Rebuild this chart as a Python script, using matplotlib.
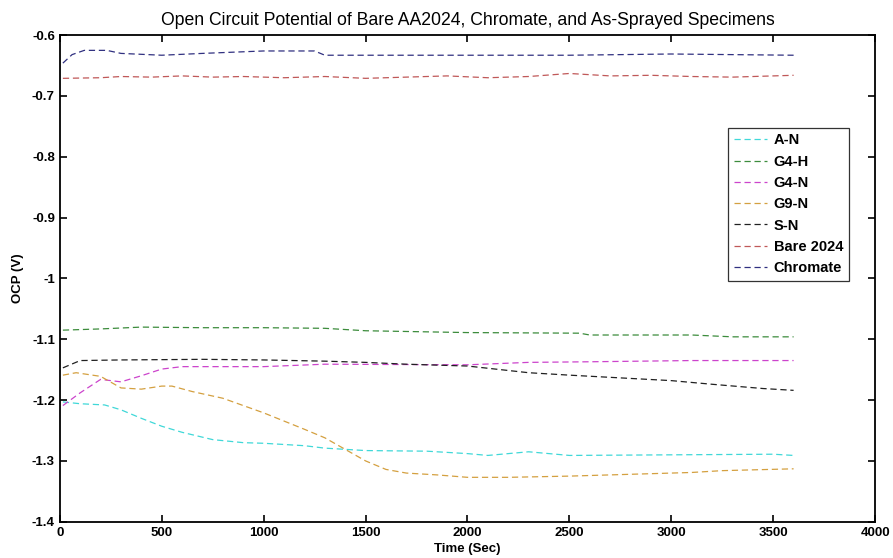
import numpy as np
import matplotlib
matplotlib.use('Agg')
import matplotlib.pyplot as plt

plt.rcParams['font.family'] = ['Liberation Sans', 'DejaVu Sans']

# Data (time in s, OCP in V)

t_an = [15, 100, 220, 300, 400, 500, 600, 750, 900, 1000, 1200, 1300, 1500, 1800, 2000, 2100, 2300, 2500, 3000, 3500, 3600]
v_an = [-1.203, -1.206, -1.208, -1.216, -1.230, -1.243, -1.253, -1.265, -1.270, -1.271, -1.275, -1.279, -1.283, -1.284, -1.288, -1.291, -1.285, -1.291, -1.290, -1.289, -1.291]

t_g4h = [15, 200, 400, 700, 1000, 1300, 1500, 2000, 2550, 2600, 3100, 3300, 3600]
v_g4h = [-1.085, -1.083, -1.080, -1.081, -1.081, -1.082, -1.086, -1.089, -1.090, -1.093, -1.093, -1.096, -1.096]

t_g4n = [15, 100, 200, 300, 400, 500, 600, 1000, 1300, 2000, 2300, 2600, 3100, 3600]
v_g4n = [-1.209, -1.188, -1.166, -1.170, -1.160, -1.149, -1.145, -1.145, -1.141, -1.142, -1.138, -1.137, -1.135, -1.135]

t_g9n = [15, 80, 200, 300, 400, 500, 550, 650, 800, 1000, 1200, 1300, 1400, 1500, 1600, 1700, 1850, 2000, 2200, 2500, 2800, 3100, 3250, 3600]
v_g9n = [-1.159, -1.155, -1.161, -1.180, -1.182, -1.177, -1.177, -1.186, -1.197, -1.221, -1.248, -1.262, -1.281, -1.300, -1.314, -1.320, -1.323, -1.327, -1.327, -1.325, -1.322, -1.319, -1.316, -1.313]

t_sn = [15, 100, 300, 700, 1000, 1300, 1500, 1700, 2000, 2300, 2500, 3000, 3200, 3450, 3600]
v_sn = [-1.147, -1.135, -1.134, -1.133, -1.134, -1.136, -1.138, -1.141, -1.144, -1.155, -1.159, -1.168, -1.174, -1.181, -1.184]

t_bare = [15, 200, 300, 450, 600, 750, 900, 1100, 1300, 1500, 1700, 1900, 2100, 2300, 2500, 2700, 2900, 3100, 3300, 3600]
v_bare = [-0.671, -0.670, -0.668, -0.669, -0.667, -0.669, -0.668, -0.670, -0.668, -0.671, -0.669, -0.667, -0.670, -0.668, -0.663, -0.667, -0.666, -0.668, -0.669, -0.666]

t_chr = [15, 60, 120, 230, 300, 500, 700, 1000, 1250, 1300, 2000, 2500, 3000, 3600]
v_chr = [-0.646, -0.632, -0.625, -0.625, -0.630, -0.633, -0.630, -0.626, -0.626, -0.633, -0.633, -0.633, -0.631, -0.633]

labels = ['A-N', 'G4-H', 'G4-N', 'G9-N', 'S-N', 'Bare 2024', 'Chromate']
colors = ['#40D8D8', '#3C8C3C', '#CC44CC', '#D4A040', '#202020', '#C05858', '#303080']

series = [(t_an, v_an), (t_g4h, v_g4h), (t_g4n, v_g4n), (t_g9n, v_g9n),
          (t_sn, v_sn), (t_bare, v_bare), (t_chr, v_chr)]

fig = plt.figure(figsize=(8.93, 5.58), dpi=100)
ax = fig.add_axes([0.067, 0.065, 0.913, 0.872])

for (t, v), lab, c in zip(series, labels, colors):
    ax.plot(t, v, linestyle='--', dashes=(5, 3), color=c, linewidth=0.9, label=lab)

ax.set_xlim(0, 4000)
ax.set_ylim(-1.4, -0.6)
ax.set_xticks(np.arange(0, 4001, 500))
ax.set_yticks(np.arange(-1.4, -0.59, 0.1))
ax.set_yticklabels(['-1.4', '-1.3', '-1.2', '-1.1', '-1', '-0.9', '-0.8', '-0.7', '-0.6'])
ax.tick_params(direction='in', top=True, right=True, length=5, width=1.2, labelsize=9.5)
for lab in ax.get_xticklabels() + ax.get_yticklabels():
    lab.set_fontweight('bold')
for s in ax.spines.values():
    s.set_linewidth(1.3)

ax.set_xlabel('Time (Sec)', fontweight='bold', fontsize=9.5, labelpad=3)
ax.set_ylabel('OCP (V)', fontweight='bold', fontsize=9.5, labelpad=6)
ax.set_title('Open Circuit Potential of Bare AA2024, Chromate, and As-Sprayed Specimens', fontsize=12.7, pad=7)

leg = ax.legend(loc='upper right', bbox_to_anchor=(0.968, 0.81), borderaxespad=0, fancybox=False,
                edgecolor='black', prop={'weight': 'bold', 'size': 10.5}, handlelength=2.3,
                handletextpad=0.45, labelspacing=0.5, borderpad=0.4)
leg.get_frame().set_linewidth(0.9)

fig.savefig('out.png', dpi=100)
